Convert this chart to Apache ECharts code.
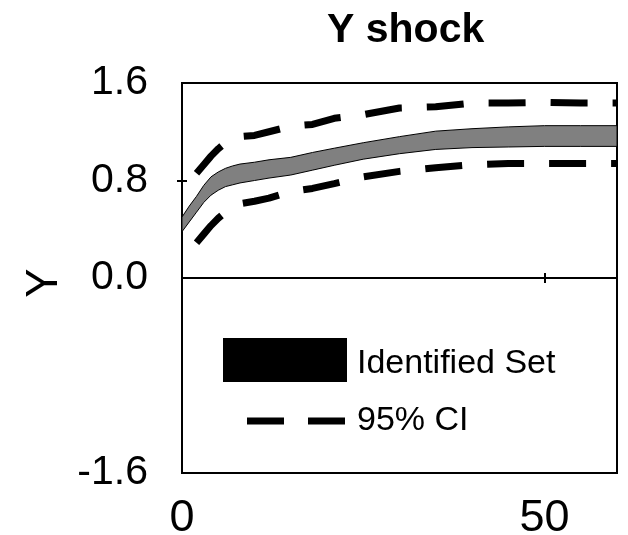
<!DOCTYPE html>
<html>
<head>
<meta charset="utf-8">
<script src="https://cdn.jsdelivr.net/npm/echarts@6/dist/echarts.min.js"></script>
<style>html,body{margin:0;padding:0;background:#fff;}#c{width:628px;height:535px;}</style>
</head>
<body>
<div id="c"></div>
<script>
// Horizons (x axis)
const horizons = [0,1,2,3,4,5,6,7,8,10,12,15,18,21,25,30,35,40,45,50,55,60];
// Identified set bounds
const bandLower = [0.38,0.46,0.54,0.62,0.68,0.72,0.75,0.765,0.78,0.80,0.82,0.845,0.885,0.925,0.975,1.02,1.055,1.07,1.075,1.08,1.08,1.08];
const bandUpper = [0.50,0.59,0.67,0.76,0.83,0.87,0.90,0.92,0.935,0.95,0.97,0.99,1.03,1.065,1.11,1.16,1.205,1.225,1.24,1.25,1.25,1.25];
// 95% CI bounds (start at horizon 2)
const ciHorizons = [2,3,4,5,6,7,8,10,12,15,18,21,25,30,35,40,45,50,55,60];
const ciUpper = [0.86,0.93,1.0,1.06,1.11,1.15,1.16,1.17,1.2,1.245,1.26,1.31,1.34,1.395,1.405,1.435,1.435,1.44,1.435,1.435];
const ciLower = [0.29,0.36,0.43,0.49,0.54,0.585,0.61,0.63,0.655,0.71,0.735,0.775,0.83,0.875,0.905,0.93,0.94,0.94,0.94,0.94];
// Tick labels
const xTickLabels = [0, 50];
const xTickMarks = [50];
const yTickLabels = [-1.6, 0, 0.8, 1.6];
const yTickMarks = [0.8];

const SANS = "'Liberation Sans', Arial, sans-serif";

const bandData = horizons.map((h, i) => [h, bandLower[i], bandUpper[i]]);
const ciUpData = ciHorizons.map((h, i) => [h, ciUpper[i]]);
const ciLoData = ciHorizons.map((h, i) => [h, ciLower[i]]);

const chart = echarts.init(document.getElementById('c'), null, {renderer: 'canvas'});
const dash = {color: '#000', width: 7, type: [37, 25], cap: 'butt'};
const tickStyle = {color: '#000', width: 2};
chart.setOption({
  animation: false,
  backgroundColor: '#fff',
  title: {
    text: 'Y shock', left: 327, top: 10, padding: 0,
    textStyle: {fontFamily: SANS, fontWeight: 'bold', fontSize: 41, color: '#000'}
  },
  grid: {left: 182, right: 11, top: 83, bottom: 62, outerBoundsMode: 'none', containLabel: false,
    show: true, borderColor: '#000', borderWidth: 2, backgroundColor: '#fff'},
  legend: [
    {
      left: 223, top: 338, padding: 0, orient: 'vertical', itemWidth: 124, itemHeight: 44, selectedMode: false,
      formatter: '{a|{name}}',
      textStyle: {fontFamily: SANS, fontSize: 34, color: '#000',
        rich: {a: {fontFamily: SANS, fontSize: 34, color: '#000', padding: [8, 0, 0, 5]}}},
      data: [{name: 'Identified Set', icon: 'rect', itemStyle: {color: '#000', borderWidth: 0}}]
    },
    {
      left: 247, top: 404, padding: 0, orient: 'vertical', itemWidth: 98, itemHeight: 7, selectedMode: false,
      textStyle: {fontFamily: SANS, fontSize: 34, color: '#000', padding: [4, 0, 0, 7]},
      data: [{name: '95% CI', icon: 'path://M0,0H37V7H0Z M61,0H98V7H61Z', itemStyle: {color: '#000', borderWidth: 0}}]
    }
  ],
  xAxis: [
    {
      type: 'value', min: 0, max: 60, position: 'bottom',
      axisLine: {show: false}, splitLine: {show: false},
      axisTick: {show: true, inside: true, length: 5, customValues: xTickMarks, lineStyle: tickStyle},
      axisLabel: {customValues: xTickLabels, margin: 23, fontFamily: SANS, fontSize: 45, color: '#000'}
    },
    {
      type: 'value', min: 0, max: 60, position: 'top',
      axisLine: {show: false}, splitLine: {show: false},
      axisTick: {show: true, inside: true, length: 5, customValues: xTickMarks, lineStyle: tickStyle},
      axisLabel: {show: false}
    }
  ],
  yAxis: [
    {
      type: 'value', min: -1.6, max: 1.6, interval: 0.8, position: 'left',
      name: 'Y', nameLocation: 'middle', nameGap: 112, nameRotate: 90,
      nameTextStyle: {fontFamily: SANS, fontSize: 44, color: '#000', padding: [0, 10, 0, 0]},
      axisLine: {show: false}, splitLine: {show: false},
      axisTick: {show: true, inside: true, length: 5, customValues: yTickMarks, lineStyle: tickStyle},
      axisLabel: {customValues: yTickLabels, margin: 34, fontFamily: SANS, fontSize: 41, color: '#000',
        padding: [8, 0, 0, 0], formatter: v => v.toFixed(1)}
    },
    {
      type: 'value', min: -1.6, max: 1.6, interval: 0.8, position: 'right',
      axisLine: {show: false}, splitLine: {show: false},
      axisTick: {show: true, inside: true, length: 5, customValues: yTickMarks, lineStyle: tickStyle},
      axisLabel: {show: false}
    }
  ],
  series: [
    {
      name: 'Identified Set', type: 'custom', data: bandData, silent: true, z: 2,
      encode: {x: 0, y: [1, 2]},
      itemStyle: {color: '#808080'},
      renderItem: function (params, api) {
        if (params.dataIndex !== 0) return null;
        const top = bandData.map(d => api.coord([d[0], d[2]]));
        const bot = bandData.map(d => api.coord([d[0], d[1]])).reverse();
        return {
          type: 'polygon',
          shape: {points: top.concat(bot)},
          style: {fill: '#808080', stroke: '#000', lineWidth: 1}
        };
      },
      markLine: {silent: true, symbol: 'none', label: {show: false},
        lineStyle: {color: '#000', width: 2, type: 'solid'}, data: [{yAxis: 0}]}
    },
    {
      name: '95% CI', type: 'line', data: ciUpData, symbol: 'none', lineStyle: dash, itemStyle: {color: '#000'}, silent: true, z: 3
    },
    {
      name: '95% CI', type: 'line', data: ciLoData, symbol: 'none', lineStyle: dash, itemStyle: {color: '#000'}, silent: true, z: 3
    }
  ]
});
</script>
</body>
</html>
